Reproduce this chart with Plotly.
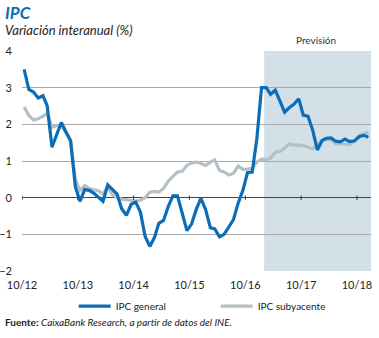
import pandas as pd
import plotly.graph_objects as go

# Monthly data, Oct 2012 - Dec 2018 (mid-month)
months = [d + pd.Timedelta(days=14) for d in pd.date_range("2012-10-01", periods=75, freq="MS")]

ipc_general = [
    3.5, 2.95, 2.88, 2.72, 2.78, 2.5, 1.38, 1.72, 2.05, 1.8, 1.55, 0.3,
    -0.1, 0.22, 0.2, 0.12, 0.0, -0.1, 0.35, 0.22, 0.1, -0.3, -0.48, -0.18,
    -0.12, -0.4, -1.05, -1.33, -1.08, -0.7, -0.62, -0.25, 0.05, 0.05, -0.45, -0.9,
    -0.72, -0.32, -0.02, -0.32, -0.82, -0.85, -1.07, -1.0, -0.8, -0.6, -0.15, 0.2,
    0.68, 0.7, 1.6, 3.0, 3.0, 2.82, 2.93, 2.65, 2.33, 2.45, 2.55, 2.7,
    2.25, 2.22, 1.85, 1.3, 1.56, 1.62, 1.63, 1.54, 1.52, 1.6, 1.53, 1.55,
    1.66, 1.7, 1.65,
]

ipc_subyacente = [
    2.47, 2.24, 2.12, 2.15, 2.22, 2.3, 1.92, 1.97, 1.95, 1.78, 1.55, 0.5,
    0.2, 0.33, 0.25, 0.22, 0.18, 0.1, 0.3, 0.08, 0.0, -0.04, -0.05, -0.08,
    -0.09, -0.07, 0.0, 0.15, 0.17, 0.15, 0.25, 0.45, 0.58, 0.7, 0.72, 0.88,
    0.95, 0.97, 0.93, 0.88, 0.97, 1.03, 0.74, 0.7, 0.62, 0.66, 0.86, 0.77,
    0.78, 0.8, 0.97, 1.05, 1.04, 1.08, 1.24, 1.26, 1.35, 1.47, 1.43, 1.44,
    1.42, 1.38, 1.33, 1.45, 1.56, 1.58, 1.58, 1.47, 1.47, 1.46, 1.45, 1.54,
    1.7, 1.74, 1.79,
]

tick_dates = ["2012-10-01", "2013-10-01", "2014-10-01", "2015-10-01",
              "2016-10-01", "2017-10-01", "2018-10-01"]
tick_labels = ["10/12", "10/13", "10/14", "10/15", "10/16", "10/17", "10/18"]
y_ticks = [-2, -1, 0, 1, 2, 3, 4]

forecast_start = "2017-02-01"
x_range = ["2012-10-01", "2019-01-01"]

BLUE = "#0B6DB8"
GREY = "#B5C0C6"
FONT = "Lato"

fig = go.Figure()
fig.add_trace(go.Scatter(x=months, y=ipc_subyacente, mode="lines", name="IPC subyacente",
                         line=dict(color=GREY, width=3.2), legendrank=2))
fig.add_trace(go.Scatter(x=months, y=ipc_general, mode="lines", name="IPC general",
                         line=dict(color=BLUE, width=3.2), legendrank=1))

# forecast shading
fig.add_shape(type="rect", xref="x", yref="paper", x0=forecast_start, x1=x_range[1],
              y0=0, y1=1, fillcolor="#D3E0E8", line=dict(width=0), layer="below")

# tick marks on zero line
for d in tick_dates:
    fig.add_shape(type="line", xref="x", yref="y", x0=d, x1=d, y0=-0.06, y1=0.06,
                  line=dict(color="#333333", width=1))

fig.update_layout(
    width=379, height=338,
    margin=dict(l=22, r=8, t=51, b=67, autoexpand=False),
    plot_bgcolor="white", paper_bgcolor="white",
    font=dict(family=FONT, size=11, color="#222222"),
    showlegend=True,
    legend=dict(orientation="h", x=0.148, y=-0.16, xanchor="left", yanchor="middle",
                font=dict(size=10, color="#222222"), itemwidth=32,
                entrywidth=95, entrywidthmode="pixels", bgcolor="rgba(0,0,0,0)"),
)

fig.update_xaxes(type="date", range=x_range, tickvals=tick_dates, ticktext=tick_labels,
                 showgrid=False, showline=False, zeroline=False, ticks="",
                 ticklabelstandoff=6, tickfont=dict(size=11, color="#222222"))
fig.update_yaxes(range=[-2, 4], tickvals=y_ticks, showgrid=True, gridcolor="#A9A9A9",
                 gridwidth=1, zeroline=True, zerolinecolor="#444444", zerolinewidth=1,
                 showline=False, ticks="", ticklabelstandoff=9,
                 tickfont=dict(size=11, color="#222222"))

fig.add_annotation(xref="paper", yref="paper", x=-0.055, y=1.176, xanchor="left", yanchor="middle",
                   text="<b><i>IPC</i></b>", showarrow=False,
                   font=dict(family=FONT, size=17, color=BLUE))
fig.add_annotation(xref="paper", yref="paper", x=-0.055, y=1.094, xanchor="left", yanchor="middle",
                   text="<i>Variación interanual (%)</i>", showarrow=False,
                   font=dict(family=FONT, size=13, color="#222222"))
fig.add_annotation(xref="paper", yref="paper", x=0.841, y=1.05, xanchor="center", yanchor="middle",
                   text="Previsión", showarrow=False,
                   font=dict(family=FONT, size=10, color="#333333"))
fig.add_annotation(xref="paper", yref="paper", x=-0.055, y=-0.232, xanchor="left", yanchor="middle",
                   text="<b>Fuente:</b> <i>CaixaBank Research, a partir de datos del INE.</i>",
                   showarrow=False, font=dict(family=FONT, size=10, color="#222222"))

fig.write_html("out.html")
